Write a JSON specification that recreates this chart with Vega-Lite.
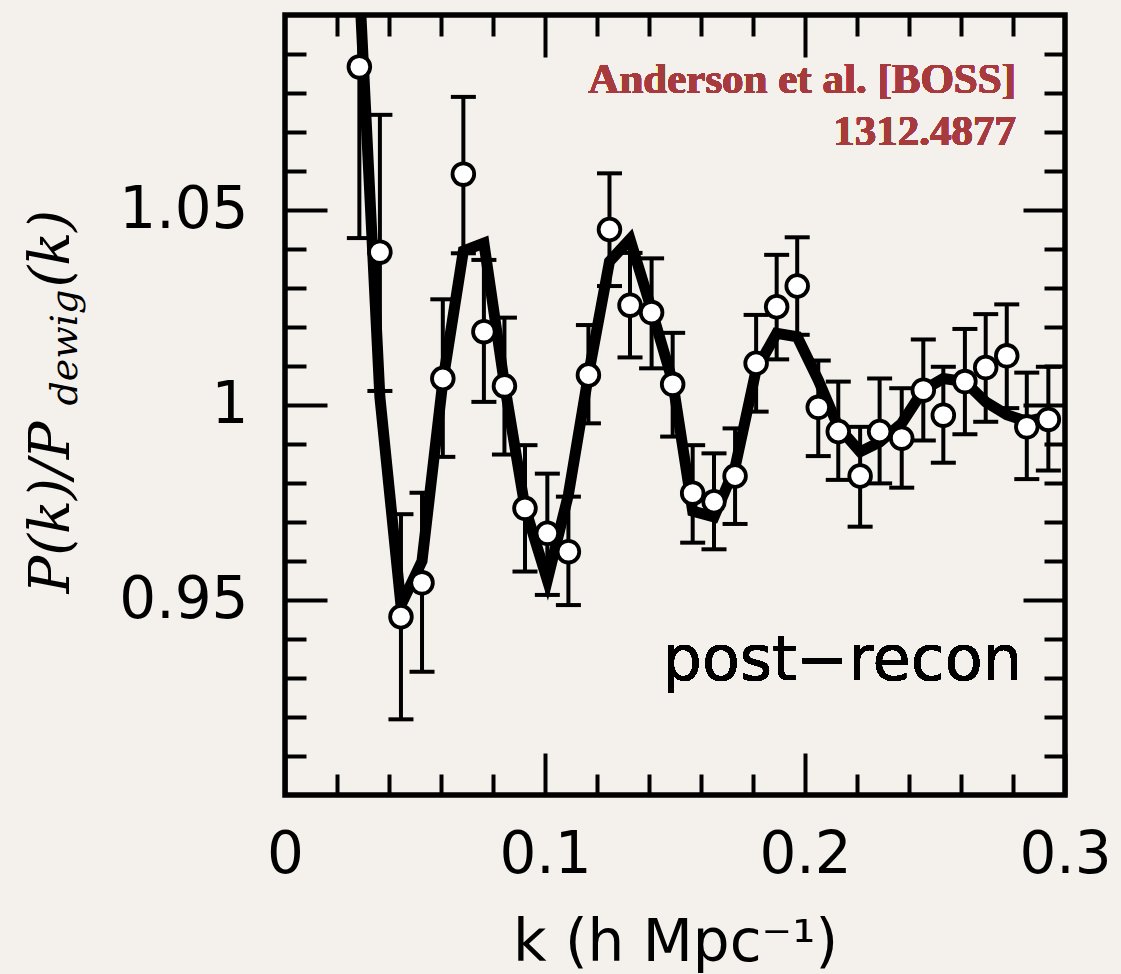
{
  "$schema": "https://vega.github.io/schema/vega-lite/v6.json",
  "width": 780,
  "height": 780,
  "autosize": {"type": "none"},
  "padding": {"left": 285, "top": 15, "right": 56, "bottom": 179},
  "background": "#f4f1ec",
  "config": {
    "view": {"stroke": "black", "strokeWidth": 5.5},
    "axis": {
      "domain": false,
      "grid": false,
      "tickColor": "black",
      "tickWidth": 4,
      "labelColor": "black",
      "titleColor": "black",
      "labelFont": "DejaVu Sans",
      "labelFontSize": 58,
      "titleFontWeight": "normal"
    }
  },
  "data": {
    "values": [
      {"k": 0.0286, "ratio": 1.0867, "err_lo": 1.0428, "err_hi": 1.131, "model": 1.108},
      {"k": 0.0365, "ratio": 1.0392, "err_lo": 1.0036, "err_hi": 1.0744, "model": 1.002},
      {"k": 0.0446, "ratio": 0.9457, "err_lo": 0.9194, "err_hi": 0.972, "model": 0.9487},
      {"k": 0.0527, "ratio": 0.9544, "err_lo": 0.9316, "err_hi": 0.9775, "model": 0.96},
      {"k": 0.0607, "ratio": 1.0068, "err_lo": 0.9867, "err_hi": 1.0271, "model": 1.006},
      {"k": 0.0686, "ratio": 1.0592, "err_lo": 1.0389, "err_hi": 1.079, "model": 1.0395},
      {"k": 0.0765, "ratio": 1.0188, "err_lo": 1.0008, "err_hi": 1.0372, "model": 1.0415},
      {"k": 0.0844, "ratio": 1.0049, "err_lo": 0.9873, "err_hi": 1.0224, "model": 1.0054},
      {"k": 0.0923, "ratio": 0.9735, "err_lo": 0.9573, "err_hi": 0.9897, "model": 0.9737},
      {"k": 0.1009, "ratio": 0.9671, "err_lo": 0.9513, "err_hi": 0.9824, "model": 0.9551},
      {"k": 0.109, "ratio": 0.9624, "err_lo": 0.9487, "err_hi": 0.9765, "model": 0.977},
      {"k": 0.1167, "ratio": 1.0077, "err_lo": 0.9953, "err_hi": 1.0205, "model": 1.0077},
      {"k": 0.1248, "ratio": 1.045, "err_lo": 1.0305, "err_hi": 1.0594, "model": 1.0368},
      {"k": 0.1327, "ratio": 1.0256, "err_lo": 1.0122, "err_hi": 1.039, "model": 1.0425},
      {"k": 0.141, "ratio": 1.0237, "err_lo": 1.0094, "err_hi": 1.0376, "model": 1.0244},
      {"k": 0.1491, "ratio": 1.0053, "err_lo": 0.9919, "err_hi": 1.0185, "model": 1.006},
      {"k": 0.1568, "ratio": 0.9774, "err_lo": 0.9647, "err_hi": 0.9897, "model": 0.9728},
      {"k": 0.165, "ratio": 0.9752, "err_lo": 0.963, "err_hi": 0.9876, "model": 0.9713},
      {"k": 0.1731, "ratio": 0.9818, "err_lo": 0.9695, "err_hi": 0.994, "model": 0.984},
      {"k": 0.1812, "ratio": 1.0107, "err_lo": 0.9983, "err_hi": 1.0231, "model": 1.009},
      {"k": 0.1891, "ratio": 1.0252, "err_lo": 1.0117, "err_hi": 1.0385, "model": 1.0184},
      {"k": 0.197, "ratio": 1.0305, "err_lo": 1.018, "err_hi": 1.043, "model": 1.0175},
      {"k": 0.2051, "ratio": 0.9994, "err_lo": 0.9869, "err_hi": 1.0114, "model": 1.0064},
      {"k": 0.2128, "ratio": 0.9932, "err_lo": 0.9808, "err_hi": 1.006, "model": 0.9944},
      {"k": 0.2212, "ratio": 0.9818, "err_lo": 0.9688, "err_hi": 0.9944, "model": 0.988},
      {"k": 0.2287, "ratio": 0.9932, "err_lo": 0.9799, "err_hi": 1.0068, "model": 0.9905},
      {"k": 0.2372, "ratio": 0.9915, "err_lo": 0.9788, "err_hi": 1.0043, "model": 0.9953},
      {"k": 0.2455, "ratio": 1.0038, "err_lo": 0.9909, "err_hi": 1.0168, "model": 1.0038},
      {"k": 0.2532, "ratio": 0.9974, "err_lo": 0.9852, "err_hi": 1.0098, "model": 1.0068},
      {"k": 0.2615, "ratio": 1.006, "err_lo": 0.9925, "err_hi": 1.0195, "model": 1.006},
      {"k": 0.2695, "ratio": 1.0096, "err_lo": 0.9957, "err_hi": 1.0233, "model": 1.0008},
      {"k": 0.2776, "ratio": 1.0126, "err_lo": 0.9992, "err_hi": 1.0258, "model": 0.9975},
      {"k": 0.2853, "ratio": 0.9944, "err_lo": 0.981, "err_hi": 1.0083, "model": 0.9958},
      {"k": 0.2936, "ratio": 0.9963, "err_lo": 0.9832, "err_hi": 1.0098, "model": 0.997}
    ]
  },
  "resolve": {"axis": {"x": "independent", "y": "independent"}},
  "layer": [
    {
      "mark": {"type": "line", "color": "black", "strokeWidth": 11, "strokeJoin": "miter", "strokeMiterLimit": 4, "clip": true},
      "encoding": {
        "x": {
          "field": "k", "type": "quantitative",
          "scale": {"domain": [0, 0.3], "nice": false, "zero": false},
          "axis": {"orient": "top", "values": [0.02, 0.04, 0.06, 0.08, 0.12, 0.14, 0.16, 0.18, 0.22, 0.24, 0.26, 0.28], "tickSize": -21, "labels": false, "title": null}
        },
        "y": {
          "field": "model", "type": "quantitative",
          "scale": {"domain": [0.9, 1.1], "nice": false, "zero": false},
          "axis": {"orient": "right", "values": [0.91, 0.92, 0.93, 0.94, 0.96, 0.97, 0.98, 0.99, 1.01, 1.02, 1.03, 1.04, 1.06, 1.07, 1.08, 1.09], "tickSize": -21, "labels": false, "title": null}
        }
      }
    },
    {
      "mark": {"type": "rule", "color": "black", "strokeWidth": 4, "clip": true},
      "encoding": {
        "x": {
          "field": "k", "type": "quantitative",
          "scale": {"domain": [0, 0.3], "nice": false, "zero": false},
          "axis": {
            "orient": "bottom", "values": [0, 0.1, 0.2, 0.3], "format": "~g", "tickSize": -42,
            "labelBaseline": "alphabetic", "labelPadding": 119, "labelFlush": false, "labelOverlap": false,
            "title": "k (h Mpc⁻¹)", "titleFont": "DejaVu Sans", "titleFontSize": 58,
            "titleX": 390, "titleY": 165, "titleAlign": "center", "titleBaseline": "alphabetic"
          }
        },
        "y": {
          "field": "err_lo", "type": "quantitative",
          "scale": {"domain": [0.9, 1.1], "nice": false, "zero": false},
          "axis": {
            "orient": "left", "values": [0.95, 1, 1.05], "format": "~g", "tickSize": -42,
            "labelAlign": "right", "labelBaseline": "middle", "labelPadding": 79, "labelOverlap": false,
            "title": "P(k)/P", "titleFont": "DejaVu Serif", "titleFontStyle": "italic", "titleFontSize": 56,
            "titleAngle": 270, "titleAlign": "left", "titleBaseline": "alphabetic", "titleX": -217, "titleY": 578
          }
        },
        "y2": {"field": "err_hi"}
      }
    },
    {
      "mark": {"type": "tick", "orient": "horizontal", "color": "black", "size": 25, "thickness": 4, "opacity": 1, "clip": true},
      "encoding": {
        "x": {
          "field": "k", "type": "quantitative",
          "scale": {"domain": [0, 0.3], "nice": false, "zero": false},
          "axis": {"orient": "bottom", "values": [0.02, 0.04, 0.06, 0.08, 0.12, 0.14, 0.16, 0.18, 0.22, 0.24, 0.26, 0.28], "tickSize": -21, "labels": false, "title": null}
        },
        "y": {
          "field": "err_lo", "type": "quantitative",
          "scale": {"domain": [0.9, 1.1], "nice": false, "zero": false},
          "axis": {
            "orient": "left", "values": [0.91, 0.92, 0.93, 0.94, 0.96, 0.97, 0.98, 0.99, 1.01, 1.02, 1.03, 1.04, 1.06, 1.07, 1.08, 1.09], "tickSize": -21, "labels": false,
            "title": "dewig", "titleFont": "DejaVu Serif", "titleFontStyle": "italic", "titleFontSize": 38,
            "titleAngle": 270, "titleAlign": "left", "titleBaseline": "alphabetic", "titleX": -209, "titleY": 390
          }
        }
      }
    },
    {
      "mark": {"type": "tick", "orient": "horizontal", "color": "black", "size": 25, "thickness": 4, "opacity": 1, "clip": true},
      "encoding": {
        "x": {
          "field": "k", "type": "quantitative",
          "scale": {"domain": [0, 0.3], "nice": false, "zero": false},
          "axis": {"orient": "top", "values": [0.1, 0.2], "tickSize": -42, "labels": false, "title": null}
        },
        "y": {
          "field": "err_hi", "type": "quantitative",
          "scale": {"domain": [0.9, 1.1], "nice": false, "zero": false},
          "axis": {
            "orient": "right", "values": [0.95, 1, 1.05], "tickSize": -42, "labels": false,
            "title": "(k)", "titleFont": "DejaVu Serif", "titleFontStyle": "italic", "titleFontSize": 56,
            "titleAngle": 270, "titleAlign": "left", "titleBaseline": "alphabetic", "titleX": -997, "titleY": 272
          }
        }
      }
    },
    {
      "mark": {"type": "point", "shape": "circle", "filled": true, "fill": "white", "stroke": "black", "strokeWidth": 3.8, "size": 470, "opacity": 1, "clip": true},
      "encoding": {
        "x": {"field": "k", "type": "quantitative", "scale": {"domain": [0, 0.3], "nice": false, "zero": false}, "axis": null},
        "y": {"field": "ratio", "type": "quantitative", "scale": {"domain": [0.9, 1.1], "nice": false, "zero": false}, "axis": null}
      }
    },
    {
      "mark": {"type": "text", "align": "right", "baseline": "alphabetic", "font": "Liberation Serif", "fontWeight": "bold", "fontSize": 43, "lineHeight": 52, "fill": "#a63a3c",
               "text": ["Anderson et al. [BOSS]", "1312.4877"]},
      "encoding": {
        "x": {"datum": 0.28115, "type": "quantitative", "scale": {"domain": [0, 0.3], "nice": false, "zero": false}, "axis": null},
        "y": {"datum": 1.08, "type": "quantitative", "scale": {"domain": [0.9, 1.1], "nice": false, "zero": false}, "axis": null}
      }
    },
    {
      "mark": {"type": "text", "align": "right", "baseline": "alphabetic", "font": "DejaVu Sans", "fontSize": 62, "fill": "black", "text": "post−recon"},
      "encoding": {
        "x": {"datum": 0.28346, "type": "quantitative", "scale": {"domain": [0, 0.3], "nice": false, "zero": false}, "axis": null},
        "y": {"datum": 0.9295, "type": "quantitative", "scale": {"domain": [0.9, 1.1], "nice": false, "zero": false}, "axis": null}
      }
    }
  ]
}
